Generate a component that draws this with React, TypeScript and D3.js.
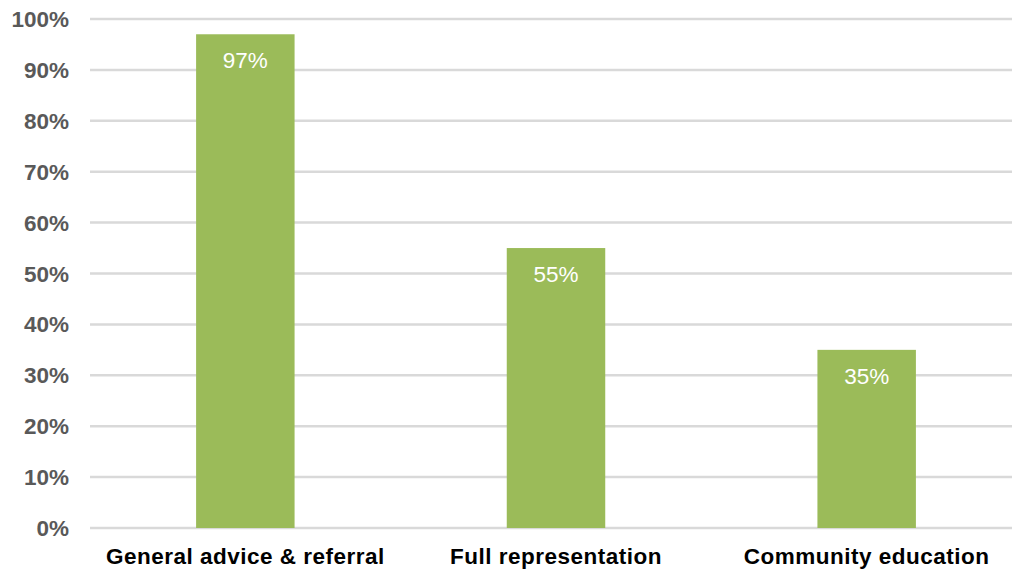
import React from "react";
import * as d3 from "d3";

const categories = ["General advice & referral", "Full representation", "Community education"];
const values = [97, 55, 35];
const yTicks = [0, 10, 20, 30, 40, 50, 60, 70, 80, 90, 100];

const W = 1012;
const H = 570;
const margin = { left: 90, right: -10, top: 19, bottom: 42 };

export default function App() {
  const x = d3
    .scaleBand<string>()
    .domain(categories)
    .range([margin.left, W - margin.right])
    .paddingInner(0.683)
    .paddingOuter(0.3415);
  const y = d3.scaleLinear().domain([0, 100]).range([H - margin.bottom, margin.top]);
  const font = "'Liberation Sans', Arial, sans-serif";
  return (
    <svg
      width={W}
      height={H}
      style={{ position: "absolute", left: 0, top: 0, background: "#fff" }}
      fontFamily={font}
    >
      {yTicks.map((t) => (
        <g key={t}>
          <line x1={margin.left} x2={W} y1={y(t)} y2={y(t)} stroke="#d9d9d9" strokeWidth={2.5} />
          <text
            x={69}
            y={y(t) + 8}
            textAnchor="end"
            fontSize={22.5}
            fontWeight="bold"
            fill="#595959"
          >
            {t}%
          </text>
        </g>
      ))}
      {categories.map((c, i) => (
        <g key={c}>
          <rect
            x={x(c)}
            y={y(values[i])}
            width={x.bandwidth()}
            height={y(0) - y(values[i])}
            fill="#9bbb59"
          />
          <text
            x={(x(c) as number) + x.bandwidth() / 2}
            y={y(values[i]) + 34}
            textAnchor="middle"
            fontSize={22.5}
            fill="#ffffff"
          >
            {values[i]}%
          </text>
          <text
            x={(x(c) as number) + x.bandwidth() / 2}
            y={564}
            textAnchor="middle"
            fontSize={22.5}
            fontWeight="bold"
            letterSpacing={0.5}
            fill="#000000"
          >
            {c}
          </text>
        </g>
      ))}
    </svg>
  );
}
